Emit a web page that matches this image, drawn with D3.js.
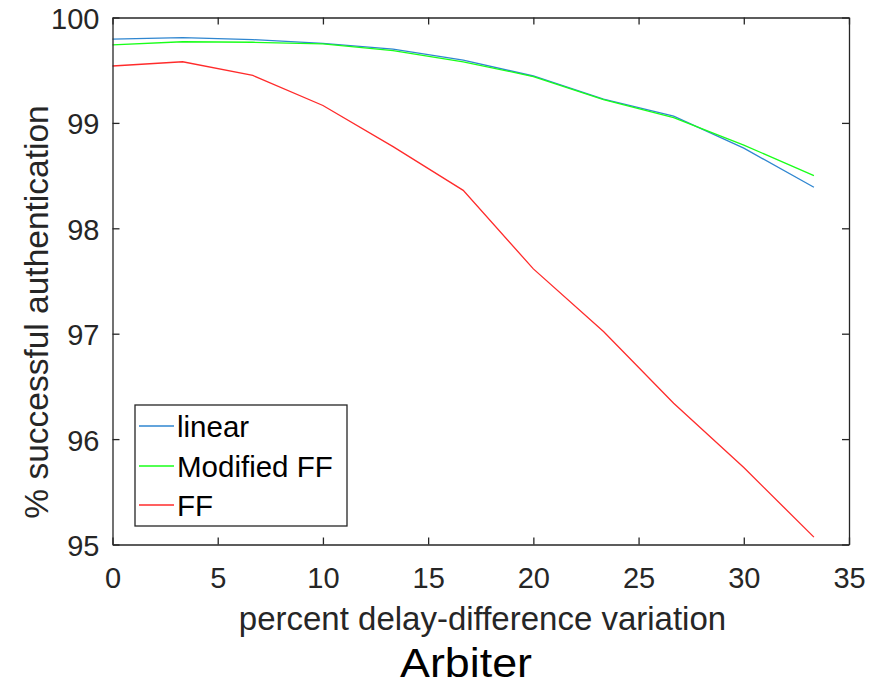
<!DOCTYPE html>
<html><head><meta charset="utf-8">
<script src="https://cdn.jsdelivr.net/npm/d3@7"></script>
<style>body{margin:0;background:#fff}svg{display:block}text{font-family:"Liberation Sans",Arial,sans-serif}</style>
</head><body>
<script>
const xValues = [0, 3.333, 6.667, 10, 13.333, 16.667, 20, 23.333, 26.667, 30, 33.333];
const linear = [99.794, 99.81, 99.79, 99.755, 99.70, 99.595, 99.445, 99.225, 99.065, 98.76, 98.39];
const modifiedFF = [99.74, 99.77, 99.765, 99.75, 99.685, 99.58, 99.44, 99.22, 99.05, 98.79, 98.50];
const ff = [99.54, 99.58, 99.45, 99.165, 98.775, 98.36, 97.615, 97.02, 96.34, 95.73, 95.07];
const seriesNames = ["linear", "Modified FF", "FF"];
const seriesColors = ["#2f86d0", "#19ff19", "#ff2b2b"];
const xTicks = [0, 5, 10, 15, 20, 25, 30, 35];
const yTicks = [95, 96, 97, 98, 99, 100];
const xLabel = "percent delay-difference variation";
const yLabel = "% successful authentication";
const title = "Arbiter";

const W = 876, H = 685;
const L = 112.5, R = 849, T = 17.5, B = 544.5;
const svg = d3.select("body").append("svg").attr("width", W).attr("height", H);
const x = d3.scaleLinear().domain([0, 35]).range([L, R]);
const y = d3.scaleLinear().domain([95, 100]).range([B, T]);
const axCol = "#262626";

const series = [linear, modifiedFF, ff];
const line = d3.line().x((d, i) => x(xValues[i])).y(d => y(d));
series.forEach((s, k) => {
  svg.append("path").datum(s).attr("d", line).attr("fill", "none")
    .attr("stroke", seriesColors[k]).attr("stroke-width", 1.3);
});

// axes
const fs = 29;
const fmt = d3.format("d");
const gx = svg.append("g").attr("transform", `translate(0,${B})`)
  .call(d3.axisBottom(x).tickValues(xTicks).tickFormat(fmt).tickSizeInner(-7).tickSizeOuter(0).tickPadding(14));
const gxt = svg.append("g").attr("transform", `translate(0,${T})`)
  .call(d3.axisTop(x).tickValues(xTicks).tickSizeInner(-7).tickSizeOuter(0).tickFormat(""));
const gy = svg.append("g").attr("transform", `translate(${L},0)`)
  .call(d3.axisLeft(y).tickValues(yTicks).tickFormat(fmt).tickSizeInner(-7).tickSizeOuter(0).tickPadding(13));
const gyr = svg.append("g").attr("transform", `translate(${R},0)`)
  .call(d3.axisRight(y).tickValues(yTicks).tickSizeInner(-7).tickSizeOuter(0).tickFormat(""));
[gx, gxt, gy, gyr].forEach(g => {
  g.select(".domain").attr("stroke", axCol).attr("stroke-width", 1.3);
  g.selectAll(".tick line").attr("stroke", axCol).attr("stroke-width", 1.3);
  g.selectAll(".tick text").attr("fill", axCol).attr("font-size", fs)
    .attr("font-family", '"Liberation Sans",Arial,sans-serif');
});
gx.selectAll(".tick text").attr("dy", null).attr("y", 43);
gy.selectAll(".tick text").attr("dy", "0.38em");

svg.append("text").attr("x", 482.5).attr("y", 630).attr("text-anchor", "middle")
  .attr("font-size", 33).attr("fill", axCol).text(xLabel);
svg.append("text").attr("transform", `translate(48,312) rotate(-90)`)
  .attr("text-anchor", "middle").attr("font-size", 33.5).attr("fill", axCol).text(yLabel);
svg.append("text").attr("x", 466).attr("y", 677).attr("text-anchor", "middle")
  .attr("font-size", 41).attr("fill", "#000").attr("font-family", '"Open Sans",sans-serif')
  .attr("textLength", 132).attr("lengthAdjust", "spacingAndGlyphs").text(title);

// legend
const lg = svg.append("g");
lg.append("rect").attr("x", 135).attr("y", 405).attr("width", 212).attr("height", 121)
  .attr("fill", "#fff").attr("stroke", axCol).attr("stroke-width", 1.3);
const rowY = [426, 466, 505];
seriesNames.forEach((n, k) => {
  lg.append("line").attr("x1", 139).attr("x2", 174).attr("y1", rowY[k]).attr("y2", rowY[k])
    .attr("stroke", seriesColors[k]).attr("stroke-width", 1.3);
  lg.append("text").attr("x", 177).attr("y", rowY[k] + 11).attr("font-size", 29.5).attr("fill", "#000").text(n);
});
</script>
</body></html>
